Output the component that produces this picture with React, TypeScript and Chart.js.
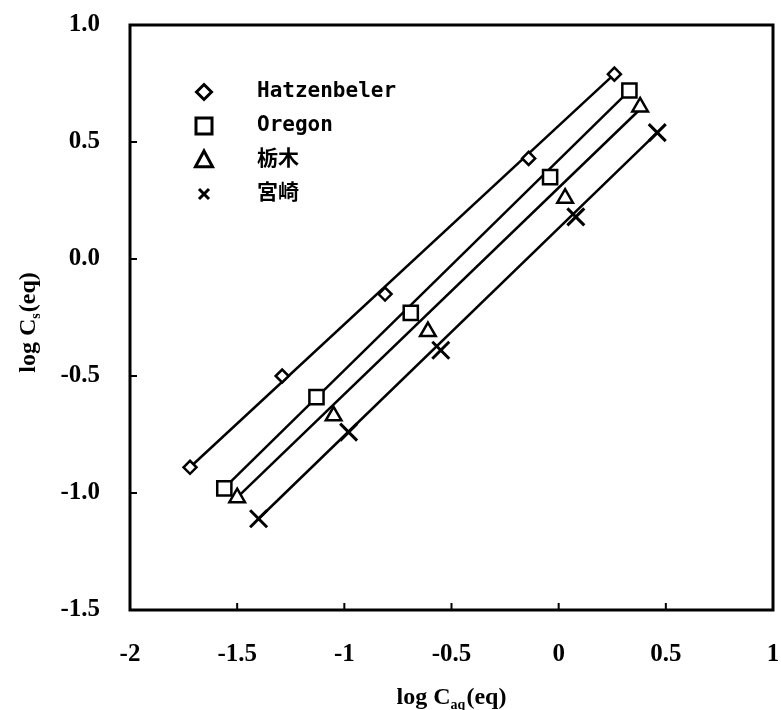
import React, { useEffect, useRef } from "react";
import { Chart, registerables } from "chart.js";

Chart.register(...registerables);

// ---- data ----
const seriesNames = ["Hatzenbeler", "Oregon", "栃木", "宮崎"];

const hatzX = [-1.72, -1.29, -0.81, -0.14, 0.26];
const hatzY = [-0.89, -0.5, -0.15, 0.43, 0.79];
const oregonX = [-1.56, -1.13, -0.69, -0.04, 0.33];
const oregonY = [-0.98, -0.59, -0.23, 0.35, 0.72];
const tochigiX = [-1.5, -1.05, -0.61, 0.03, 0.38];
const tochigiY = [-1.02, -0.67, -0.31, 0.26, 0.65];
const miyazakiX = [-1.4, -0.98, -0.55, 0.08, 0.46];
const miyazakiY = [-1.11, -0.74, -0.39, 0.18, 0.54];

// fitted straight lines (end points)
const hatzFitX = [-1.72, 0.26];
const hatzFitY = [-0.89, 0.79];
const oregonFitX = [-1.55, 0.33];
const oregonFitY = [-0.97, 0.72];
const tochigiFitX = [-1.49, 0.38];
const tochigiFitY = [-1.01, 0.64];
const miyazakiFitX = [-1.4, 0.46];
const miyazakiFitY = [-1.11, 0.54];

const xTicks = [-2, -1.5, -1, -0.5, 0, 0.5, 1];
const xTickLabels = ["-2", "-1.5", "-1", "-0.5", "0", "0.5", "1"];
const yTicks = [-1.5, -1, -0.5, 0, 0.5, 1];
const yTickLabels = ["-1.5", "-1.0", "-0.5", "0.0", "0.5", "1.0"];

const xTitle = ["log C", "aq", "(eq)"];
const yTitle = ["log C", "s", "(eq)"];

const pts = (xs: number[], ys: number[]) => xs.map((x, i) => ({ x, y: ys[i] }));

const markerStyles = ["rectRot", "rect", "triangle", "crossRot"];
const markerRadius = [6.5, 10, 9, 12];

function drawMarker(ctx: CanvasRenderingContext2D, kind: string, x: number, y: number, s: number) {
  ctx.beginPath();
  if (kind === "rectRot") {
    ctx.moveTo(x, y - s);
    ctx.lineTo(x + s, y);
    ctx.lineTo(x, y + s);
    ctx.lineTo(x - s, y);
    ctx.closePath();
    ctx.fillStyle = "#fff";
    ctx.fill();
    ctx.stroke();
  } else if (kind === "rect") {
    ctx.rect(x - s, y - s, 2 * s, 2 * s);
    ctx.fillStyle = "#fff";
    ctx.fill();
    ctx.stroke();
  } else if (kind === "triangle") {
    ctx.moveTo(x, y - s);
    ctx.lineTo(x + s * 0.95, y + s * 0.75);
    ctx.lineTo(x - s * 0.95, y + s * 0.75);
    ctx.closePath();
    ctx.fillStyle = "#fff";
    ctx.fill();
    ctx.stroke();
  } else {
    ctx.moveTo(x - s, y - s);
    ctx.lineTo(x + s, y + s);
    ctx.moveTo(x + s, y - s);
    ctx.lineTo(x - s, y + s);
    ctx.stroke();
  }
}

const zeroPad = (axis: any) => {
  axis.paddingTop = 0;
  axis.paddingBottom = 0;
  axis.paddingLeft = 0;
  axis.paddingRight = 0;
};

const decorPlugin = {
  id: "decor",
  afterDraw(chart: any) {
    const { ctx, chartArea } = chart;
    const { left, right, top, bottom } = chartArea;
    const xs = chart.scales.x;
    const ys = chart.scales.y;
    ctx.save();
    ctx.strokeStyle = "#000";
    // inward tick marks
    ctx.lineWidth = 2;
    ctx.beginPath();
    xTicks.forEach((v) => {
      const px = xs.getPixelForValue(v);
      ctx.moveTo(px, bottom);
      ctx.lineTo(px, bottom - 7);
    });
    yTicks.forEach((v) => {
      const py = ys.getPixelForValue(v);
      ctx.moveTo(left, py);
      ctx.lineTo(left + 7, py);
    });
    ctx.stroke();
    // frame
    ctx.lineWidth = 3;
    ctx.strokeRect(left, top, right - left, bottom - top);

    // legend
    const legendMarkerSize = [7.5, 8, 9, 5];
    ctx.font = 'bold 21px "DejaVu Sans Mono", "Noto Sans CJK JP", monospace';
    ctx.textBaseline = "middle";
    ctx.textAlign = "left";
    ctx.fillStyle = "#000";
    seriesNames.forEach((name, i) => {
      const y = 92 + i * 34;
      ctx.lineWidth = 3;
      ctx.strokeStyle = "#000";
      drawMarker(ctx, markerStyles[i], 204, y, legendMarkerSize[i]);
      ctx.fillStyle = "#000";
      ctx.fillText(name, 257, y);
    });

    // axis titles with subscripts
    const big = 'bold 24px "Liberation Serif", "DejaVu Serif", serif';
    const small = 'bold 14px "Liberation Serif", "DejaVu Serif", serif';
    const drawTitle = (parts: string[], cx: number, cy: number) => {
      ctx.font = big;
      const w0 = ctx.measureText(parts[0] + " ").width - ctx.measureText(" ").width;
      const w2 = ctx.measureText(parts[2]).width;
      ctx.font = small;
      const w1 = ctx.measureText(parts[1]).width + 1;
      const total = w0 + w1 + w2;
      let x = cx - total / 2;
      ctx.textAlign = "left";
      ctx.textBaseline = "alphabetic";
      ctx.fillStyle = "#000";
      ctx.font = big;
      ctx.fillText(parts[0], x, cy + 8);
      x += w0;
      ctx.font = small;
      ctx.fillText(parts[1], x, cy + 13);
      x += w1;
      ctx.font = big;
      ctx.fillText(parts[2], x, cy + 8);
    };
    drawTitle(xTitle, (left + right) / 2, 696);
    ctx.save();
    ctx.translate(27, (top + bottom) / 2 + 5);
    ctx.rotate(-Math.PI / 2);
    drawTitle(yTitle, 0, 0);
    ctx.restore();
    ctx.restore();
  },
};

export default function App() {
  const ref = useRef<HTMLCanvasElement | null>(null);

  useEffect(() => {
    if (!ref.current) return;
    const black = "#000";
    const pointSets = [
      pts(hatzX, hatzY),
      pts(oregonX, oregonY),
      pts(tochigiX, tochigiY),
      pts(miyazakiX, miyazakiY),
    ];
    const fitSets = [
      pts(hatzFitX, hatzFitY),
      pts(oregonFitX, oregonFitY),
      pts(tochigiFitX, tochigiFitY),
      pts(miyazakiFitX, miyazakiFitY),
    ];
    const datasets: any[] = [];
    fitSets.forEach((d, i) => {
      datasets.push({
        label: seriesNames[i] + " fit",
        data: d,
        showLine: true,
        borderColor: black,
        borderWidth: 2.5,
        pointRadius: 0,
        order: 2,
      });
    });
    pointSets.forEach((d, i) => {
      datasets.push({
        label: seriesNames[i],
        data: d,
        showLine: false,
        pointStyle: markerStyles[i],
        pointRadius: markerRadius[i],
        pointBorderWidth: i === 3 ? 3 : 2.5,
        pointBorderColor: black,
        pointBackgroundColor: "#fff",
        order: 1,
      });
    });

    const tickFont = { family: '"Liberation Serif", "DejaVu Serif", serif', size: 25, weight: "bold" as const };

    const chart = new Chart(ref.current, {
      type: "scatter",
      data: { datasets },
      plugins: [decorPlugin],
      options: {
        animation: false,
        responsive: false,
        devicePixelRatio: 1,
        layout: { autoPadding: false, padding: { left: 0, top: 25, right: 8, bottom: 0 } },
        plugins: {
          legend: { display: false },
          tooltip: { enabled: false },
          title: { display: false },
        },
        scales: {
          x: {
            type: "linear",
            min: -2,
            max: 1,
            afterBuildTicks: (axis: any) => {
              axis.ticks = xTicks.map((v) => ({ value: v }));
            },
            afterFit: (axis: any) => {
              axis.height = 100;
              zeroPad(axis);
            },
            ticks: {
              color: "#000",
              font: tickFont,
              padding: 30,
              maxRotation: 0,
              autoSkip: false,
              callback: (v: any) => {
                const i = xTicks.indexOf(Number(v));
                return i >= 0 ? xTickLabels[i] : "";
              },
            },
            grid: { display: false, drawTicks: false },
            border: { display: false },
          },
          y: {
            type: "linear",
            min: -1.5,
            max: 1,
            afterBuildTicks: (axis: any) => {
              axis.ticks = yTicks.map((v) => ({ value: v }));
            },
            afterFit: (axis: any) => {
              axis.width = 130;
              zeroPad(axis);
            },
            ticks: {
              color: "#000",
              font: tickFont,
              padding: 30,
              autoSkip: false,
              callback: (v: any) => {
                const i = yTicks.indexOf(Number(v));
                return i >= 0 ? yTickLabels[i] : "";
              },
            },
            grid: { display: false, drawTicks: false },
            border: { display: false },
          },
        },
      },
    });
    return () => chart.destroy();
  }, []);

  return (
    <div style={{ position: "absolute", left: 0, top: 0, width: 781, height: 710, background: "#fff" }}>
      <canvas ref={ref} width={781} height={710} style={{ display: "block" }} />
    </div>
  );
}
